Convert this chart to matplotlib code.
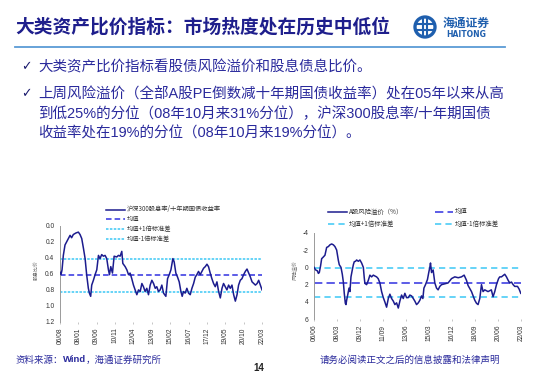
import matplotlib
matplotlib.use("Agg")
import matplotlib.pyplot as plt
from matplotlib.lines import Line2D
from matplotlib.patches import Circle
from matplotlib.transforms import IdentityTransform

plt.rcParams['font.family'] = ['Noto Sans CJK SC', 'DejaVu Sans']
plt.rcParams['lines.scale_dashes'] = False

# ---------------- data ----------------
title = "大类资产比价指标：市场热度处在历史中低位"
bullets = [
    "大类资产比价指标看股债风险溢价和股息债息比价。",
    "上周风险溢价（全部A股PE倒数减十年期国债收益率）处在05年以来从高",
    "到低25%的分位（08年10月来31%分位），沪深300股息率/十年期国债",
    "收益率处在19%的分位（08年10月来19%分位）。",
]

# left chart: 沪深300股息率/十年期国债收益率 (decimal year, ratio)
left_t = [2006.58, 2006.66, 2006.74, 2006.84, 2006.97, 2007.10, 2007.23, 2007.36, 2007.48, 2007.61,
          2007.82, 2008.00, 2008.13, 2008.26, 2008.39, 2008.52, 2008.64, 2008.77, 2008.85, 2008.95,
          2009.03, 2009.16, 2009.29, 2009.42, 2009.55, 2009.67, 2009.80, 2009.93, 2010.06, 2010.19,
          2010.32, 2010.40, 2010.50, 2010.63, 2010.76, 2010.96, 2011.09, 2011.22, 2011.35, 2011.43,
          2011.61, 2011.74, 2011.87, 2011.99, 2012.12, 2012.25, 2012.38, 2012.51, 2012.64, 2012.77,
          2012.90, 2013.02, 2013.15, 2013.28, 2013.41, 2013.54, 2013.67, 2013.80, 2013.93, 2014.05,
          2014.18, 2014.31, 2014.44, 2014.57, 2014.75, 2014.88, 2015.01, 2015.14, 2015.29, 2015.39,
          2015.52, 2015.65, 2015.78, 2015.91, 2016.01, 2016.11, 2016.24, 2016.37, 2016.50, 2016.63,
          2016.76, 2016.89, 2017.02, 2017.14, 2017.27, 2017.40, 2017.53, 2017.66, 2017.79, 2017.92,
          2018.04, 2018.17, 2018.30, 2018.43, 2018.56, 2018.69, 2018.82, 2018.95, 2019.08, 2019.20,
          2019.33, 2019.46, 2019.59, 2019.72, 2019.85, 2019.98, 2020.11, 2020.24, 2020.36, 2020.49,
          2020.62, 2020.75, 2020.88, 2021.01, 2021.14, 2021.27, 2021.40, 2021.53, 2021.66, 2021.79,
          2021.91, 2022.04, 2022.17]
left_v = [0.58, 0.61, 0.55, 0.37, 0.24, 0.20, 0.16, 0.12, 0.15, 0.11,
          0.09, 0.08, 0.11, 0.16, 0.28, 0.41, 0.61, 0.78, 0.84, 0.88,
          0.74, 0.68, 0.61, 0.55, 0.37, 0.41, 0.36, 0.38, 0.37, 0.41,
          0.55, 0.61, 0.51, 0.59, 0.38, 0.39, 0.37, 0.38, 0.32, 0.47,
          0.51, 0.55, 0.61, 0.59, 0.66, 0.74, 0.80, 0.86, 0.80, 0.82,
          0.72, 0.76, 0.82, 0.78, 0.86, 0.74, 0.68, 0.72, 0.78, 0.76,
          0.82, 0.80, 0.74, 0.84, 0.88, 0.66, 0.61, 0.55, 0.41, 0.45,
          0.59, 0.64, 0.70, 0.82, 0.88, 0.82, 0.84, 0.78, 0.84, 0.86,
          0.78, 0.72, 0.64, 0.61, 0.57, 0.61, 0.57, 0.53, 0.51, 0.48,
          0.51, 0.59, 0.66, 0.72, 0.76, 0.70, 0.82, 0.90, 0.78, 0.72,
          0.76, 0.80, 0.74, 0.78, 0.74, 0.86, 0.94, 0.86, 0.74, 0.68,
          0.66, 0.61, 0.57, 0.54, 0.59, 0.64, 0.70, 0.72, 0.74, 0.72,
          0.68, 0.74, 0.80]
left_mean, left_up, left_dn = 0.62, 0.41, 0.83
left_ticks = ['06/08', '08/01', '09/06', '10/11', '12/04', '13/09', '15/02', '16/07', '17/12', '19/05', '20/10', '22/03']
left_yticks = [0.0, 0.2, 0.4, 0.6, 0.8, 1.0, 1.2]
left_labels = ['沪深300股息率/十年期国债收益率', '均值', '均值+1倍标准差', '均值-1倍标准差']

# right chart: A股风险溢价 (%)
right_t = [2006.42, 2006.54, 2006.67, 2006.75, 2006.82, 2006.92, 2007.00, 2007.13, 2007.25, 2007.38,
           2007.51, 2007.63, 2007.76, 2007.89, 2008.01, 2008.14, 2008.27, 2008.34, 2008.47, 2008.57,
           2008.65, 2008.72, 2008.80, 2008.85, 2008.90, 2008.98, 2009.08, 2009.15, 2009.23, 2009.33,
           2009.41, 2009.48, 2009.58, 2009.66, 2009.79, 2009.91, 2010.04, 2010.17, 2010.24, 2010.29,
           2010.42, 2010.55, 2010.67, 2010.80, 2010.93, 2011.05, 2011.18, 2011.30, 2011.43, 2011.56,
           2011.69, 2011.81, 2011.94, 2012.07, 2012.19, 2012.32, 2012.45, 2012.57, 2012.70, 2012.83,
           2012.95, 2013.08, 2013.21, 2013.33, 2013.46, 2013.59, 2013.71, 2013.84, 2013.97, 2014.09,
           2014.22, 2014.35, 2014.47, 2014.60, 2014.70, 2014.78, 2014.90, 2015.05, 2015.16, 2015.23,
           2015.28, 2015.36, 2015.48, 2015.61, 2015.74, 2015.86, 2015.99, 2016.12, 2016.37, 2016.62,
           2016.88, 2017.13, 2017.39, 2017.64, 2017.84, 2018.02, 2018.14, 2018.40, 2018.65, 2018.78,
           2018.90, 2019.03, 2019.16, 2019.28, 2019.41, 2019.66, 2019.91, 2020.04, 2020.17, 2020.30,
           2020.46, 2020.55, 2020.68, 2020.93, 2021.06, 2021.19, 2021.31, 2021.44, 2021.57, 2021.69,
           2021.90, 2022.02, 2022.15]
right_v = [0.0, 0.3, 0.4, 0.7, 0.6, -0.2, -1.0, -1.2, -1.4, -2.3,
           -2.4, -2.6, -2.7, -2.6, -2.4, -2.0, -0.8, -0.3, 0.0, 0.8,
           1.7, 3.0, 4.15, 4.3, 3.8, 3.2, 2.4, 2.8, 1.1, 0.3,
           -0.3, -0.65, -0.7, -0.85, -0.7, -0.85, -0.5, 0.0, 1.2, 1.85,
           2.0, 1.5, 0.9, 1.1, 0.9, 1.0, 1.1, 1.3, 1.8, 2.8,
           3.5, 4.0, 4.6, 3.6, 3.1, 3.6, 3.9, 4.3, 4.1, 4.7,
           3.9, 3.2, 3.6, 3.0, 3.5, 3.5, 3.2, 3.3, 3.6, 3.9,
           4.3, 4.1, 3.8, 3.3, 3.6, 2.4, 2.0, 1.4, 0.5, 0.0,
           -0.5, 0.6, 0.3, 1.8, 2.4, 2.6, 2.2, 2.0, 1.9, 1.8,
           1.3, 1.1, 1.2, 1.1, 0.9, 1.5, 2.1, 2.8, 3.8, 4.15,
           4.3, 3.6, 2.0, 2.8, 2.6, 2.8, 2.6, 3.4, 2.8, 2.0,
           1.3, 1.1, 1.1, 0.8, 1.1, 1.5, 1.8, 1.7, 2.0, 2.2,
           2.2, 2.5, 3.0]
right_mean, right_up, right_dn = 1.77, 0.07, 3.47
right_ticks = ['06/06', '08/03', '09/12', '11/09', '13/06', '15/03', '16/12', '18/09', '20/06', '22/03']
right_yticks = [-4, -2, 0, 2, 4, 6]
right_labels = ['A股风险溢价（%）', '均值', '均值+1倍标准差', '均值-1倍标准差']

source_text = ["资料来源：", "Wind", "，海通证券研究所"]
disclaimer = "请务必阅读正文之后的信息披露和法律声明"
page_no = "14"

# ---------------- styles ----------------
W, H = 550, 380
NAVY = '#1c1c8e'
MEAN_C = '#3030e0'
CYAN = '#3cc8f5'
TXT = '#2a2a9c'
MIX = ['Liberation Sans', 'Noto Sans CJK SC', 'DejaVu Sans']

def fx(px):
    return px / W

def fy(py):
    return 1 - py / H

def lab2dec(s):
    yy, mm = s.split('/')
    return 2000 + int(yy) + (int(mm) - 1) / 12.0

fig = plt.figure(figsize=(5.5, 3.8), dpi=100)
fig.patch.set_facecolor('white')

# title
fig.text(fx(15), fy(27), title, fontsize=13.5, color='#1e1e8c', fontweight='bold',
         va='center', ha='left')
fig.add_artist(Line2D([fx(15), fx(505)], [fy(47), fy(47)], color='#5b9bd5', lw=1.3))

# logo
logo_c = '#1f5fae'
fig.add_artist(Circle((425, H - 27), 10, transform=IdentityTransform(),
                      facecolor='white', edgecolor=logo_c, lw=2.4))
fig.add_artist(Line2D([fx(418), fx(432)], [fy(24), fy(24)], color=logo_c, lw=1.5))
fig.add_artist(Line2D([fx(418), fx(432)], [fy(30), fy(30)], color=logo_c, lw=1.5))
fig.add_artist(Line2D([fx(423), fx(423)], [fy(19), fy(35)], color=logo_c, lw=1.5))
fig.add_artist(Line2D([fx(427), fx(427)], [fy(19), fy(35)], color=logo_c, lw=1.5))
fig.text(fx(443), fy(23), "海通证券", fontsize=8.5, color=logo_c, fontweight='bold',
         va='center', ha='left', style='italic')
fig.text(fx(446), fy(34.5), "HAITONG", fontsize=5.5, color=logo_c, fontweight='bold',
         va='center', ha='left', family=['DejaVu Sans'])

# bullets
bullet_y = [67, 94, 114, 133]
for i, (s, y) in enumerate(zip(bullets, bullet_y)):
    if i in (0, 1):
        fig.text(fx(21), fy(y), "✓", fontsize=9, color='#1a1a6e', va='center', ha='left',
                 family=['DejaVu Sans'])
    fig.text(fx(38), fy(y), s, fontsize=10.45, color=TXT, va='center', ha='left', family=MIX)

# ---------------- left chart ----------------
axL = fig.add_axes([fx(60), fy(322), fx(262) - fx(60), fy(225.7) - fy(322)])
axL.plot(left_t, left_v, color=NAVY, lw=1.1, zorder=3)
x0, x1 = lab2dec(left_ticks[0]), lab2dec(left_ticks[-1])
axL.plot([x0, x1], [left_mean] * 2, color=MEAN_C, lw=1.1, dashes=(4, 2.2), zorder=2)
axL.plot([x0, x1], [left_up] * 2, color=CYAN, lw=1.1, dashes=(1.8, 1), zorder=2)
axL.plot([x0, x1], [left_dn] * 2, color=CYAN, lw=1.1, dashes=(1.8, 1), zorder=2)
axL.set_xlim(x0, x1)
axL.set_ylim(1.2, 0.0)
axL.set_yticks(left_yticks)
axL.set_yticklabels([f"{v:.1f}" for v in left_yticks])
axL.set_xticks([lab2dec(s) for s in left_ticks])
axL.set_xticklabels(left_ticks, rotation=90)

# ---------------- right chart ----------------
axR = fig.add_axes([fx(314), fy(319.3), fx(521) - fx(314), fy(232.7) - fy(319.3)])
axR.plot(right_t, right_v, color=NAVY, lw=1.1, zorder=3)
x0r, x1r = lab2dec(right_ticks[0]), lab2dec(right_ticks[-1])
axR.plot([x0r, x1r], [right_mean] * 2, color=MEAN_C, lw=1.1, dashes=(6, 3), zorder=2)
axR.plot([x0r, x1r], [right_up] * 2, color=CYAN, lw=1.1, dashes=(4.5, 3), zorder=2)
axR.plot([x0r, x1r], [right_dn] * 2, color=CYAN, lw=1.1, dashes=(4.5, 3), zorder=2)
axR.set_xlim(x0r, x1r)
axR.set_ylim(6, -4)
axR.set_yticks(right_yticks)
axR.set_yticklabels([str(v) for v in right_yticks])
axR.set_xticks([lab2dec(s) for s in right_ticks])
axR.set_xticklabels(right_ticks, rotation=90)

for ax in (axL, axR):
    ax.set_facecolor('none')
    for side in ('top', 'right', 'bottom'):
        ax.spines[side].set_visible(False)
    ax.spines['left'].set_color('#9a9a9a')
    ax.spines['left'].set_linewidth(0.7)
    ax.tick_params(axis='both', labelsize=4.8, colors='#9a9a9a', labelcolor='#333333',
                   length=1.5, width=0.4, pad=2.5)
    ax.tick_params(axis='y', length=0, pad=4)
    for lbl in ax.get_xticklabels() + ax.get_yticklabels():
        lbl.set_family(['Liberation Sans', 'DejaVu Sans'])

# axis unit labels
fig.text(fx(36), fy(270), "股息比价", fontsize=3.6, color='#666666', rotation=90,
         va='center', ha='center')
fig.text(fx(295), fy(270), "风险溢价", fontsize=3.6, color='#666666', rotation=90,
         va='center', ha='center')

# ---------------- legends (manual) ----------------
def leg_line(x_a, x_b, y, style):
    kw = dict(color=style[0], lw=1.1)
    if style[1] is not None:
        kw['dashes'] = style[1]
    fig.add_artist(Line2D([fx(x_a), fx(x_b)], [fy(y), fy(y)], **kw))

styles_L = [(NAVY, None), (MEAN_C, (4, 2.2)), (CYAN, (1.8, 1)), (CYAN, (1.8, 1))]
for lab, st, y in zip(left_labels, styles_L, [209.5, 219.3, 229.2, 239]):
    leg_line(106, 125, y, st)
    fig.text(fx(127), fy(y), lab, fontsize=4.5, color='#333333', va='center', ha='left')

styles_R = [(NAVY, None), (MEAN_C, (6, 3)), (CYAN, (4.5, 3)), (CYAN, (4.5, 3))]
pos_R = [(328, 347, 211.5), (435, 453, 211.5), (328, 347, 224), (435, 453, 224)]
for lab, st, (xa, xb, y) in zip(right_labels, styles_R, pos_R):
    leg_line(xa, xb, y, st)
    fig.text(fx(xb + 2), fy(y), lab, fontsize=4.6, color='#333333', va='center', ha='left')

# ---------------- footer ----------------
t1 = fig.text(fx(15), fy(360), source_text[0], fontsize=6.8, color=TXT, va='center', ha='left')
fig.canvas.draw()
r = fig.canvas.get_renderer()
bb = t1.get_window_extent(r)
t2 = fig.text(bb.x1 / W, fy(360), source_text[1], fontsize=6.8, color=TXT, va='center',
              ha='left', fontweight='bold', family=['Liberation Sans', 'DejaVu Sans'])
bb2 = t2.get_window_extent(r)
fig.text(bb2.x1 / W, fy(360), source_text[2], fontsize=6.8, color=TXT, va='center', ha='left')
fig.text(fx(500), fy(360), disclaimer, fontsize=6.8, color=TXT, va='center', ha='right')
fig.text(fx(259), fy(368), page_no, fontsize=7, color='#222222', va='center', ha='center',
         fontweight='bold', family=['Liberation Sans', 'DejaVu Sans'])

fig.savefig("out.png", dpi=100, facecolor='white')
